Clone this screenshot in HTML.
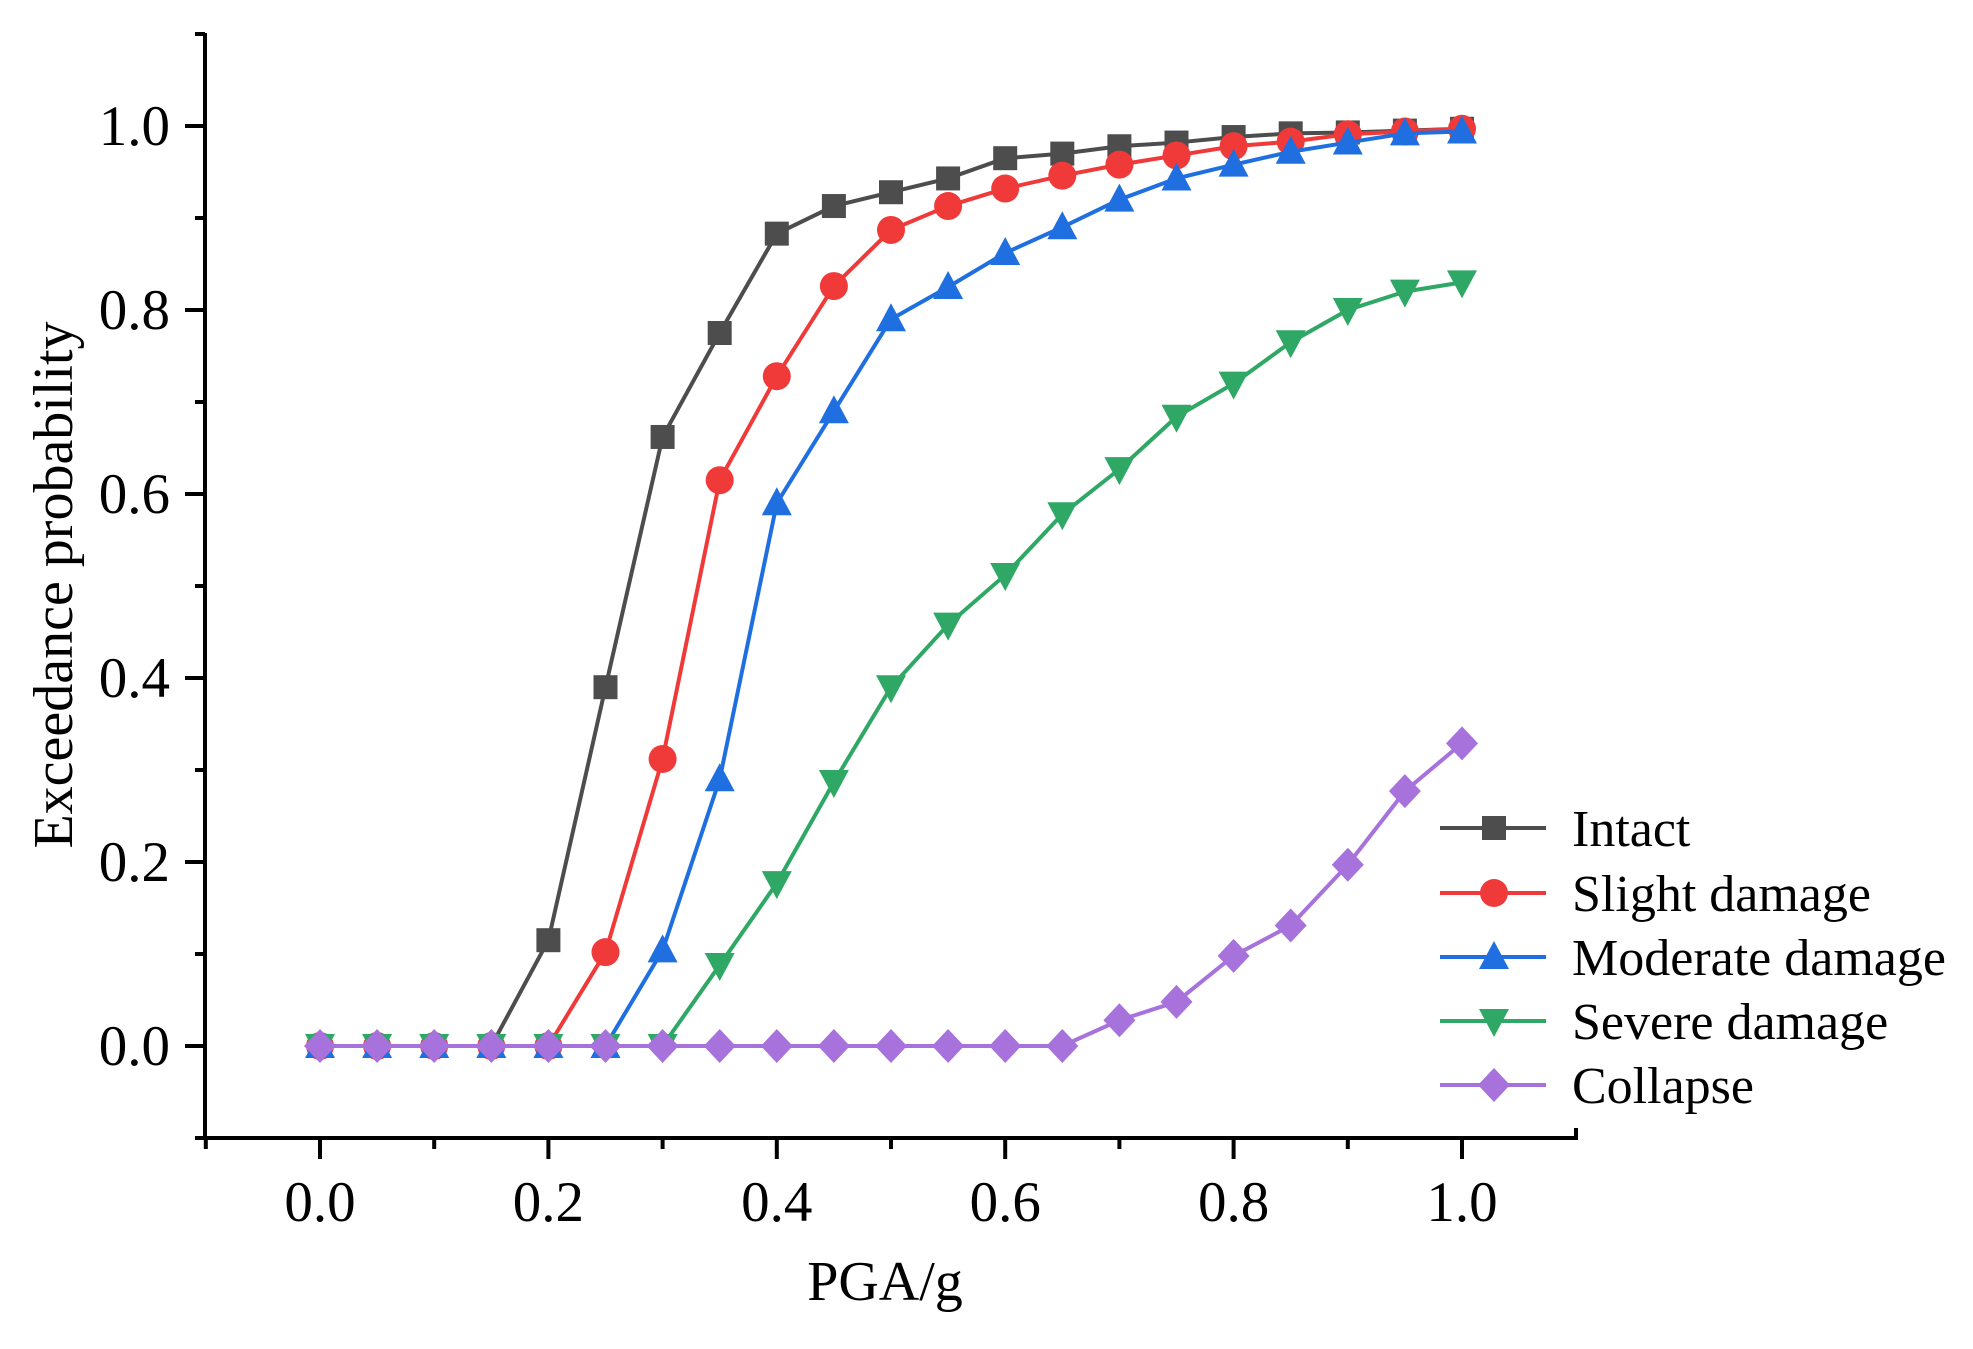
<!DOCTYPE html>
<html><head><meta charset="utf-8"><style>
html,body{margin:0;padding:0;background:#fff}
svg text{font-family:"Liberation Serif",serif;fill:#000}
</style></head><body>
<svg id="chart" width="1973" height="1344" viewBox="0 0 1973 1344" xmlns="http://www.w3.org/2000/svg"></svg>
<script>
const xValues=[0,0.05,0.1,0.15,0.2,0.25,0.3,0.35,0.4,0.45,0.5,0.55,0.6,0.65,0.7,0.75,0.8,0.85,0.9,0.95,1.0];
const intact=[0,0,0,0,0.115,0.39,0.662,0.775,0.883,0.913,0.928,0.943,0.965,0.97,0.978,0.982,0.988,0.992,0.993,0.995,0.997];
const slight=[0,0,0,0,0,0.102,0.312,0.615,0.728,0.826,0.887,0.913,0.932,0.946,0.958,0.968,0.978,0.983,0.991,0.994,0.997];
const moderate=[0,0,0,0,0,0,0.104,0.29,0.59,0.69,0.79,0.825,0.862,0.89,0.92,0.943,0.958,0.972,0.982,0.992,0.994];
const severe=[0,0,0,0,0,0,0,0.088,0.177,0.287,0.39,0.458,0.512,0.578,0.627,0.684,0.72,0.765,0.8,0.82,0.83];
const collapse=[0,0,0,0,0,0,0,0,0,0,0,0,0,0,0.028,0.048,0.098,0.131,0.197,0.277,0.329];
const xTicks=[0,0.2,0.4,0.6,0.8,1.0];
const xTickLabels=["0.0","0.2","0.4","0.6","0.8","1.0"];
const yTicks=[0,0.2,0.4,0.6,0.8,1.0];
const yTickLabels=["0.0","0.2","0.4","0.6","0.8","1.0"];
const seriesNames=["Intact","Slight damage","Moderate damage","Severe damage","Collapse"];

const NS="http://www.w3.org/2000/svg";
const svg=document.getElementById('chart');
const X=v=>320+v*1142;
const Y=v=>1046-v*920;
function mk(tag,attrs,parent){const e=document.createElementNS(NS,tag);for(const k in attrs)e.setAttribute(k,attrs[k]);(parent||svg).appendChild(e);return e;}

const axes=mk('g',{});


const yAxis=mk('line',{x1:205,y1:33,x2:205,y2:1140,stroke:'#000','stroke-width':4},axes);


const xAxis=mk('line',{x1:203,y1:1138,x2:1578,y2:1138,stroke:'#000','stroke-width':4},axes);


mk('line',{x1:195,y1:34,x2:205,y2:34,stroke:'#000','stroke-width':4},axes);
mk('line',{x1:1576,y1:1138,x2:1576,y2:1128,stroke:'#000','stroke-width':4},axes);
for(let i=-1;i<=10;i++){const v=i/10;const major=(i%2===0);
 mk('line',{x1:major?185:195,y1:Y(v),x2:205,y2:Y(v),stroke:'#000','stroke-width':4},axes);}
yTicks.forEach((v,i)=>{const t=mk('text',{x:170,y:Y(v)+19,'text-anchor':'end','font-size':57},axes);t.textContent=yTickLabels[i];
 
 });
for(let i=-1;i<=10;i++){const v=i/10;const major=(i%2===0);
 mk('line',{x1:X(v),y1:1138,x2:X(v),y2:major?1159:1149,stroke:'#000','stroke-width':4},axes);}
xTicks.forEach((v,i)=>{const t=mk('text',{x:X(v),y:1221,'text-anchor':'middle','font-size':57},axes);t.textContent=xTickLabels[i];
 
 });
const xt=mk('text',{x:885,y:1300,'text-anchor':'middle','font-size':56});xt.textContent='PGA/g';


const yt=mk('text',{x:0,y:0,'text-anchor':'middle','font-size':56,transform:'translate(72,585) rotate(-90)'});yt.textContent='Exceedance probability';



const colors=['#4d4d4d','#f03a3a','#1f6fe0','#2fa866','#a772dc'];
const shapes=['square','circle','up','down','diamond'];
const data=[intact,slight,moderate,severe,collapse];
function marker(shape,cx,cy,col,g){
 let e;
 if(shape==='square')e=mk('rect',{x:cx-12,y:cy-12,width:24,height:24,fill:col},g);
 else if(shape==='circle')e=mk('circle',{cx:cx,cy:cy,r:14,fill:col},g);
 else if(shape==='up')e=mk('polygon',{points:`${cx},${cy-16} ${cx+15},${cy+12} ${cx-15},${cy+12}`,fill:col},g);
 else if(shape==='down')e=mk('polygon',{points:`${cx},${cy+16} ${cx+15},${cy-12} ${cx-15},${cy-12}`,fill:col},g);
 else e=mk('polygon',{points:`${cx},${cy-17} ${cx+16},${cy} ${cx},${cy+17} ${cx-16},${cy}`,fill:col},g);
 return e;
}
const names=['series-intact','series-slight','series-moderate','series-severe','series-collapse'];
data.forEach((arr,si)=>{
 const g=mk('g',{});
 
 
 const pts=arr.map((v,i)=>X(xValues[i])+','+Y(v)).join(' ');
 const pl=mk('polyline',{points:pts,fill:'none',stroke:colors[si],'stroke-width':4},g);
 
 
 arr.forEach((v,i)=>{const m=marker(shapes[si],X(xValues[i]),Y(v),colors[si],g);
  
  });
});
const lg=mk('g',{});


const rows=[828,893,957,1021,1085];
seriesNames.forEach((n,i)=>{
 const eg=mk('g',{},lg);
 
 
 mk('line',{x1:1440,y1:rows[i],x2:1546,y2:rows[i],stroke:colors[i],'stroke-width':4},eg);
 marker(shapes[i],1494,rows[i],colors[i],eg);
 const t=mk('text',{x:1572,y:rows[i]+18,'font-size':52},eg);t.textContent=n;
});
</script>
</body></html>
